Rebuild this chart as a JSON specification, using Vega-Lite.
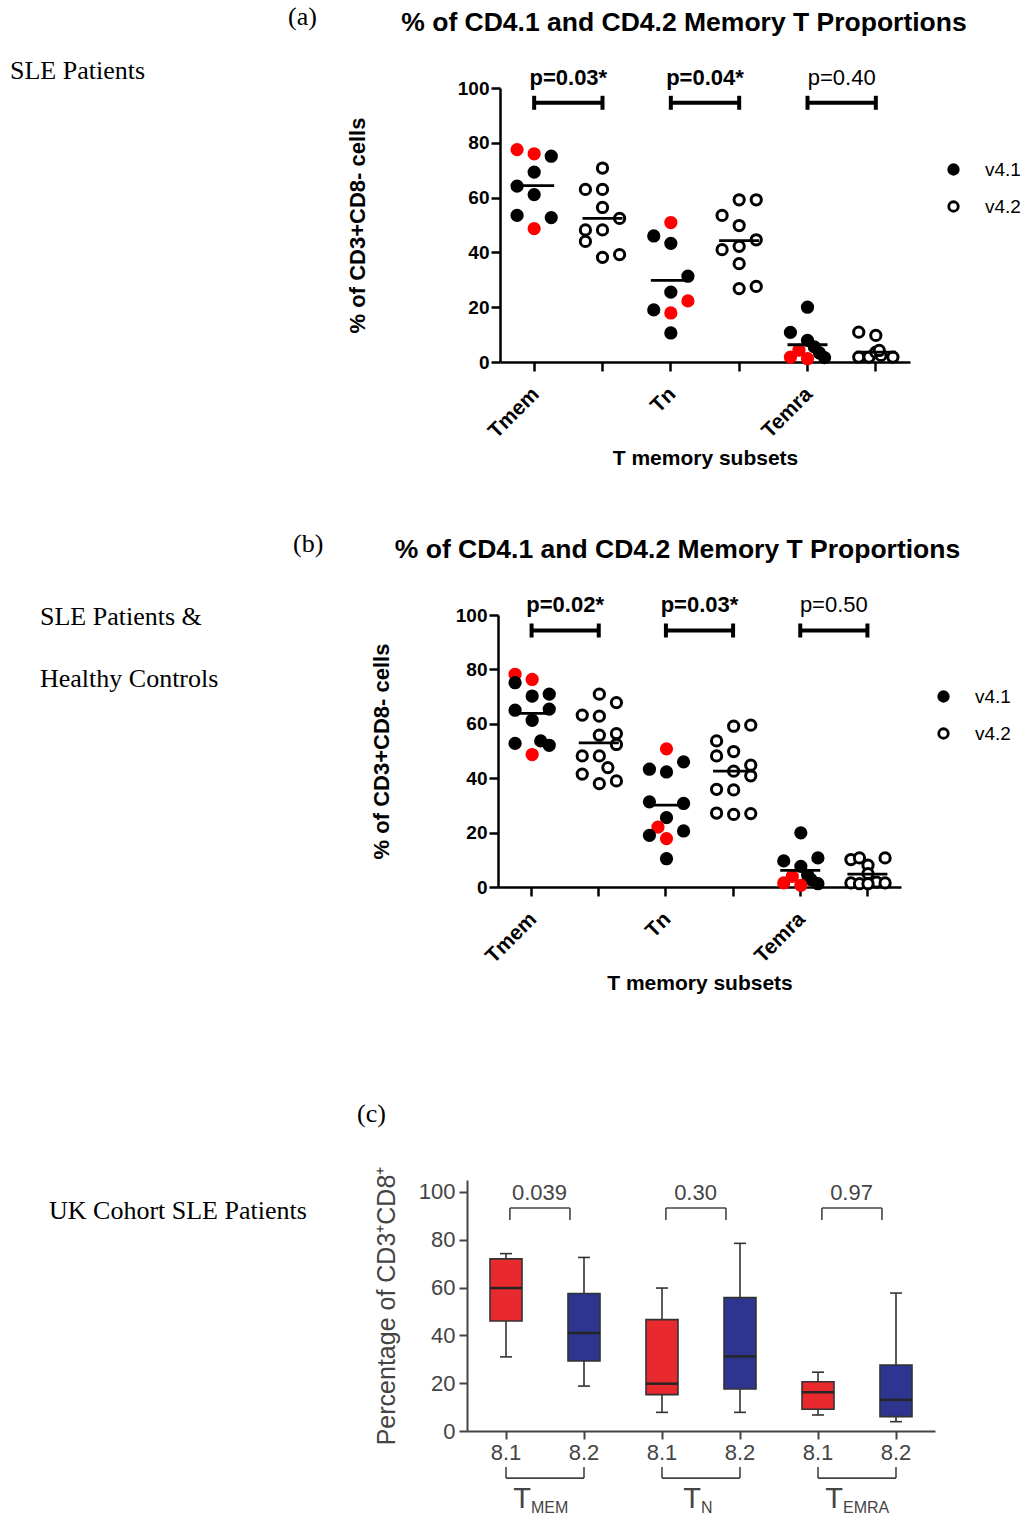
{
  "$schema": "https://vega.github.io/schema/vega-lite/v6.json",
  "autosize": {"type": "pad"},
  "padding": {"left": 0, "top": 4, "right": 0, "bottom": 0},
  "background": "white",
  "spacing": 0,
  "resolve": {"scale": {"fill": "independent", "stroke": "independent"}, "legend": {"fill": "independent", "stroke": "independent"}},
  "config": {
    "view": {"stroke": null},
    "font": "Liberation Sans",
    "axis": {"grid": false, "labelFont": "Liberation Sans", "titleFont": "Liberation Sans"},
    "legend": {"labelFont": "Liberation Sans"},
    "title": {"font": "Liberation Sans"}
  },
  "datasets": {
    "dotsA": [
      {"cat": "Tmem v4.1", "kind": "red", "off": -1, "value": 77.5},
      {"cat": "Tmem v4.1", "kind": "red", "off": 0, "value": 76.0},
      {"cat": "Tmem v4.1", "kind": "v4.1", "off": 1, "value": 75.1},
      {"cat": "Tmem v4.1", "kind": "v4.1", "off": 0, "value": 69.3},
      {"cat": "Tmem v4.1", "kind": "v4.1", "off": -1, "value": 64.2},
      {"cat": "Tmem v4.1", "kind": "v4.1", "off": 0, "value": 61.1},
      {"cat": "Tmem v4.1", "kind": "v4.1", "off": -1, "value": 53.5},
      {"cat": "Tmem v4.1", "kind": "v4.1", "off": 1, "value": 52.7},
      {"cat": "Tmem v4.1", "kind": "red", "off": 0, "value": 48.7},
      {"cat": "Tmem v4.2", "kind": "v4.2", "off": 0, "value": 70.8},
      {"cat": "Tmem v4.2", "kind": "v4.2", "off": -1, "value": 63.0},
      {"cat": "Tmem v4.2", "kind": "v4.2", "off": 0, "value": 63.0},
      {"cat": "Tmem v4.2", "kind": "v4.2", "off": 0, "value": 56.4},
      {"cat": "Tmem v4.2", "kind": "v4.2", "off": 1, "value": 52.4},
      {"cat": "Tmem v4.2", "kind": "v4.2", "off": -1, "value": 48.2},
      {"cat": "Tmem v4.2", "kind": "v4.2", "off": 0, "value": 48.2},
      {"cat": "Tmem v4.2", "kind": "v4.2", "off": -1, "value": 44.0},
      {"cat": "Tmem v4.2", "kind": "v4.2", "off": 0, "value": 38.2},
      {"cat": "Tmem v4.2", "kind": "v4.2", "off": 1, "value": 39.2},
      {"cat": "Tn v4.1", "kind": "red", "off": 0, "value": 50.9},
      {"cat": "Tn v4.1", "kind": "v4.1", "off": -1, "value": 46.0},
      {"cat": "Tn v4.1", "kind": "v4.1", "off": 0, "value": 43.3},
      {"cat": "Tn v4.1", "kind": "v4.1", "off": 1, "value": 31.3},
      {"cat": "Tn v4.1", "kind": "v4.1", "off": 0, "value": 25.5},
      {"cat": "Tn v4.1", "kind": "red", "off": 1, "value": 22.3},
      {"cat": "Tn v4.1", "kind": "v4.1", "off": -1, "value": 19.0},
      {"cat": "Tn v4.1", "kind": "red", "off": 0, "value": 17.9},
      {"cat": "Tn v4.1", "kind": "v4.1", "off": 0, "value": 10.6},
      {"cat": "Tn v4.2", "kind": "v4.2", "off": 0, "value": 59.2},
      {"cat": "Tn v4.2", "kind": "v4.2", "off": 1, "value": 59.2},
      {"cat": "Tn v4.2", "kind": "v4.2", "off": -1, "value": 53.5},
      {"cat": "Tn v4.2", "kind": "v4.2", "off": 0, "value": 49.8},
      {"cat": "Tn v4.2", "kind": "v4.2", "off": 1, "value": 44.6},
      {"cat": "Tn v4.2", "kind": "v4.2", "off": -1, "value": 41.0},
      {"cat": "Tn v4.2", "kind": "v4.2", "off": 0, "value": 42.2},
      {"cat": "Tn v4.2", "kind": "v4.2", "off": 0, "value": 35.9},
      {"cat": "Tn v4.2", "kind": "v4.2", "off": 0, "value": 26.8},
      {"cat": "Tn v4.2", "kind": "v4.2", "off": 1, "value": 27.6},
      {"cat": "Temra v4.1", "kind": "v4.1", "off": 0, "value": 20.0},
      {"cat": "Temra v4.1", "kind": "v4.1", "off": -1, "value": 10.8},
      {"cat": "Temra v4.1", "kind": "v4.1", "off": 0, "value": 7.9},
      {"cat": "Temra v4.1", "kind": "v4.1", "off": 0.4, "value": 5.5},
      {"cat": "Temra v4.1", "kind": "v4.1", "off": 0.7, "value": 3.3},
      {"cat": "Temra v4.1", "kind": "v4.1", "off": 1, "value": 1.6},
      {"cat": "Temra v4.1", "kind": "red", "off": -0.5, "value": 4.3},
      {"cat": "Temra v4.1", "kind": "red", "off": -1, "value": 1.8},
      {"cat": "Temra v4.1", "kind": "red", "off": 0, "value": 1.2},
      {"cat": "Temra v4.2", "kind": "v4.2", "off": -1, "value": 10.9},
      {"cat": "Temra v4.2", "kind": "v4.2", "off": 0, "value": 9.7},
      {"cat": "Temra v4.2", "kind": "v4.2", "off": -1, "value": 1.8},
      {"cat": "Temra v4.2", "kind": "v4.2", "off": -0.4, "value": 1.8},
      {"cat": "Temra v4.2", "kind": "v4.2", "off": 0, "value": 3.6},
      {"cat": "Temra v4.2", "kind": "v4.2", "off": 0.3, "value": 2.4},
      {"cat": "Temra v4.2", "kind": "v4.2", "off": 1, "value": 1.8},
      {"cat": "Temra v4.2", "kind": "v4.2", "off": 0.2, "value": 4.2}
    ],
    "meansA": [
      {"cat": "Tmem v4.1", "mean": 64.4},
      {"cat": "Tmem v4.2", "mean": 52.4},
      {"cat": "Tn v4.1", "mean": 29.8},
      {"cat": "Tn v4.2", "mean": 44.3},
      {"cat": "Temra v4.1", "mean": 6.3},
      {"cat": "Temra v4.2", "mean": 3.6}
    ],
    "bracketsA": [
      {"cat1": "Tmem v4.1", "cat2": "Tmem v4.2", "label": "p=0.03*", "sig": true},
      {"cat1": "Tn v4.1", "cat2": "Tn v4.2", "label": "p=0.04*", "sig": true},
      {"cat1": "Temra v4.1", "cat2": "Temra v4.2", "label": "p=0.40", "sig": false}
    ],
    "dotsB": [
      {"cat": "Tmem v4.1", "kind": "red", "off": -1, "value": 78.2},
      {"cat": "Tmem v4.1", "kind": "v4.1", "off": -1, "value": 75.1},
      {"cat": "Tmem v4.1", "kind": "red", "off": 0, "value": 76.3},
      {"cat": "Tmem v4.1", "kind": "v4.1", "off": 1, "value": 70.9},
      {"cat": "Tmem v4.1", "kind": "v4.1", "off": 0, "value": 70.2},
      {"cat": "Tmem v4.1", "kind": "v4.1", "off": -1, "value": 65.0},
      {"cat": "Tmem v4.1", "kind": "v4.1", "off": 1, "value": 65.4},
      {"cat": "Tmem v4.1", "kind": "v4.1", "off": 0, "value": 61.3},
      {"cat": "Tmem v4.1", "kind": "v4.1", "off": -1, "value": 52.8},
      {"cat": "Tmem v4.1", "kind": "v4.1", "off": 0.5, "value": 53.7},
      {"cat": "Tmem v4.1", "kind": "v4.1", "off": 1, "value": 52.1},
      {"cat": "Tmem v4.1", "kind": "red", "off": 0, "value": 48.7},
      {"cat": "Tmem v4.2", "kind": "v4.2", "off": 0, "value": 70.9},
      {"cat": "Tmem v4.2", "kind": "v4.2", "off": 1, "value": 67.8},
      {"cat": "Tmem v4.2", "kind": "v4.2", "off": -1, "value": 63.2},
      {"cat": "Tmem v4.2", "kind": "v4.2", "off": 0, "value": 62.8},
      {"cat": "Tmem v4.2", "kind": "v4.2", "off": 0, "value": 55.8},
      {"cat": "Tmem v4.2", "kind": "v4.2", "off": 1, "value": 56.4},
      {"cat": "Tmem v4.2", "kind": "v4.2", "off": 1, "value": 52.4},
      {"cat": "Tmem v4.2", "kind": "v4.2", "off": -1, "value": 48.2},
      {"cat": "Tmem v4.2", "kind": "v4.2", "off": 0, "value": 48.2},
      {"cat": "Tmem v4.2", "kind": "v4.2", "off": 0.5, "value": 43.9},
      {"cat": "Tmem v4.2", "kind": "v4.2", "off": -1, "value": 41.5},
      {"cat": "Tmem v4.2", "kind": "v4.2", "off": 1, "value": 39.0},
      {"cat": "Tmem v4.2", "kind": "v4.2", "off": 0, "value": 38.0},
      {"cat": "Tn v4.1", "kind": "red", "off": 0, "value": 50.8},
      {"cat": "Tn v4.1", "kind": "v4.1", "off": 1, "value": 46.0},
      {"cat": "Tn v4.1", "kind": "v4.1", "off": -1, "value": 43.3},
      {"cat": "Tn v4.1", "kind": "v4.1", "off": 0, "value": 42.3},
      {"cat": "Tn v4.1", "kind": "v4.1", "off": -1, "value": 31.3},
      {"cat": "Tn v4.1", "kind": "v4.1", "off": 1, "value": 30.7},
      {"cat": "Tn v4.1", "kind": "v4.1", "off": 0, "value": 25.5},
      {"cat": "Tn v4.1", "kind": "red", "off": -0.5, "value": 22.0},
      {"cat": "Tn v4.1", "kind": "v4.1", "off": 1, "value": 20.6},
      {"cat": "Tn v4.1", "kind": "v4.1", "off": -1, "value": 19.0},
      {"cat": "Tn v4.1", "kind": "red", "off": 0, "value": 17.8},
      {"cat": "Tn v4.1", "kind": "v4.1", "off": 0, "value": 10.4},
      {"cat": "Tn v4.2", "kind": "v4.2", "off": 0, "value": 59.1},
      {"cat": "Tn v4.2", "kind": "v4.2", "off": 1, "value": 59.5},
      {"cat": "Tn v4.2", "kind": "v4.2", "off": -1, "value": 53.7},
      {"cat": "Tn v4.2", "kind": "v4.2", "off": 0, "value": 49.8},
      {"cat": "Tn v4.2", "kind": "v4.2", "off": -1, "value": 48.2},
      {"cat": "Tn v4.2", "kind": "v4.2", "off": 1, "value": 44.8},
      {"cat": "Tn v4.2", "kind": "v4.2", "off": 0, "value": 42.6},
      {"cat": "Tn v4.2", "kind": "v4.2", "off": 1, "value": 40.9},
      {"cat": "Tn v4.2", "kind": "v4.2", "off": -1, "value": 35.9},
      {"cat": "Tn v4.2", "kind": "v4.2", "off": 0, "value": 35.7},
      {"cat": "Tn v4.2", "kind": "v4.2", "off": -1, "value": 27.2},
      {"cat": "Tn v4.2", "kind": "v4.2", "off": 0, "value": 26.7},
      {"cat": "Tn v4.2", "kind": "v4.2", "off": 1, "value": 27.0},
      {"cat": "Temra v4.1", "kind": "v4.1", "off": 0, "value": 19.9},
      {"cat": "Temra v4.1", "kind": "v4.1", "off": -1, "value": 9.6},
      {"cat": "Temra v4.1", "kind": "v4.1", "off": 1, "value": 10.7},
      {"cat": "Temra v4.1", "kind": "v4.1", "off": 0, "value": 7.6},
      {"cat": "Temra v4.1", "kind": "v4.1", "off": 0.4, "value": 4.3},
      {"cat": "Temra v4.1", "kind": "v4.1", "off": 0.6, "value": 2.7},
      {"cat": "Temra v4.1", "kind": "v4.1", "off": 1, "value": 1.2},
      {"cat": "Temra v4.1", "kind": "red", "off": -0.5, "value": 3.9},
      {"cat": "Temra v4.1", "kind": "red", "off": -1, "value": 1.5},
      {"cat": "Temra v4.1", "kind": "red", "off": 0, "value": 0.6},
      {"cat": "Temra v4.2", "kind": "v4.2", "off": -1, "value": 10.1},
      {"cat": "Temra v4.2", "kind": "v4.2", "off": -0.5, "value": 10.7},
      {"cat": "Temra v4.2", "kind": "v4.2", "off": 1, "value": 10.7},
      {"cat": "Temra v4.2", "kind": "v4.2", "off": 0, "value": 8.0},
      {"cat": "Temra v4.2", "kind": "v4.2", "off": 0, "value": 4.9},
      {"cat": "Temra v4.2", "kind": "v4.2", "off": -1, "value": 1.5},
      {"cat": "Temra v4.2", "kind": "v4.2", "off": -0.5, "value": 1.2},
      {"cat": "Temra v4.2", "kind": "v4.2", "off": 0.5, "value": 1.8},
      {"cat": "Temra v4.2", "kind": "v4.2", "off": 1, "value": 1.5},
      {"cat": "Temra v4.2", "kind": "v4.2", "off": 0, "value": 1.2}
    ],
    "meansB": [
      {"cat": "Tmem v4.1", "mean": 63.8},
      {"cat": "Tmem v4.2", "mean": 53.0},
      {"cat": "Tn v4.1", "mean": 30.1},
      {"cat": "Tn v4.2", "mean": 42.6},
      {"cat": "Temra v4.1", "mean": 6.1},
      {"cat": "Temra v4.2", "mean": 4.7}
    ],
    "bracketsB": [
      {"cat1": "Tmem v4.1", "cat2": "Tmem v4.2", "label": "p=0.02*", "sig": true},
      {"cat1": "Tn v4.1", "cat2": "Tn v4.2", "label": "p=0.03*", "sig": true},
      {"cat1": "Temra v4.1", "cat2": "Temra v4.2", "label": "p=0.50", "sig": false}
    ],
    "boxesC": [
      {"cat": "TMEM 8.1", "ver": "8.1", "lo": 31.0, "q1": 46.0, "med": 59.8, "q3": 72.0, "hi": 74.2},
      {"cat": "TMEM 8.2", "ver": "8.2", "lo": 18.8, "q1": 29.3, "med": 41.0, "q3": 57.5, "hi": 72.6},
      {"cat": "TN 8.1", "ver": "8.1", "lo": 7.8, "q1": 15.2, "med": 19.8, "q3": 46.6, "hi": 59.8},
      {"cat": "TN 8.2", "ver": "8.2", "lo": 7.8, "q1": 17.6, "med": 31.2, "q3": 55.8, "hi": 78.5},
      {"cat": "TEMRA 8.1", "ver": "8.1", "lo": 6.7, "q1": 9.1, "med": 16.2, "q3": 20.6, "hi": 24.6},
      {"cat": "TEMRA 8.2", "ver": "8.2", "lo": 3.9, "q1": 6.0, "med": 13.0, "q3": 27.6, "hi": 57.7}
    ],
    "groupsC": [
      {"group": "TMEM", "c1": "TMEM 8.1", "c2": "TMEM 8.2", "p": "0.039", "sub": "MEM"},
      {"group": "TN", "c1": "TN 8.1", "c2": "TN 8.2", "p": "0.30", "sub": "N"},
      {"group": "TEMRA", "c1": "TEMRA 8.1", "c2": "TEMRA 8.2", "p": "0.97", "sub": "EMRA"}
    ]
  },
  "vconcat": [
    {
      "resolve": {"scale": {"fill": "shared", "stroke": "shared"}, "legend": {"fill": "shared", "stroke": "shared"}},
      "hconcat": [
        {"width": 10, "height": 443, "data": {"values": [{}]}, "mark": "text", "encoding": {"text": {"value": ""}}},
        {"width": 20, "height": 20, "data": {"values": [{}]}, "mark": "text", "encoding": {"text": {"value": ""}},
         "title": {"text": "SLE Patients", "anchor": "start", "frame": "group", "font": "Liberation Serif", "fontSize": 26, "fontWeight": "normal", "color": "black", "offset": 4}},
        {"width": 258, "height": 20, "data": {"values": [{}]}, "mark": "text", "encoding": {"text": {"value": ""}}},
        {"width": 212, "height": 20, "data": {"values": [{}]}, "mark": "text", "encoding": {"text": {"value": ""}},
         "title": {"text": "(a)", "anchor": "start", "frame": "group", "font": "Liberation Serif", "fontSize": 26, "fontWeight": "normal", "color": "black", "offset": 58}},
        {
          "width": 410, "height": 274,
          "title": {"text": "% of CD4.1 and CD4.2 Memory T Proportions", "font": "Liberation Sans", "fontSize": 26.5, "fontWeight": "bold", "color": "black", "anchor": "middle", "dx": -21, "offset": 30},
          "layer": [
            {
              "data": {"name": "dotsA"},
              "mark": {"type": "point", "shape": "circle", "size": 105, "strokeWidth": 3, "opacity": 1},
              "encoding": {
                "x": {"field": "cat", "type": "nominal", "sort": null,
                      "scale": {"type": "band", "domain": ["Tmem v4.1", "Tmem v4.2", "Tn v4.1", "Tn v4.2", "Temra v4.1", "Temra v4.2"], "paddingInner": 0, "paddingOuter": 0},
                      "axis": {"title": "T memory subsets", "titleFontSize": 21, "titleFontWeight": "bold", "titleColor": "black", "titlePadding": 6,
                               "labelExpr": "split(datum.value, ' ')[1] == 'v4.1' ? split(datum.value, ' ')[0] : ''",
                               "labelAngle": -45, "labelFontSize": 21, "labelFontWeight": "bold", "labelColor": "black", "labelPadding": 12, "labelOffset": -6,
                               "domainColor": "black", "domainWidth": 2.5, "tickColor": "black", "tickWidth": 2.5, "tickSize": 9}},
                "xOffset": {"field": "off", "type": "quantitative", "scale": {"domain": [-2, 2], "nice": false, "zero": false}},
                "y": {"field": "value", "type": "quantitative", "scale": {"domain": [0, 100], "nice": false},
                      "axis": {"title": "% of CD3+CD8- cells", "titleFontSize": 22, "titleFontWeight": "bold", "titleColor": "black", "titlePadding": 88,
                               "values": [0, 20, 40, 60, 80, 100], "labelFontSize": 19, "labelFontWeight": "bold", "labelColor": "black", "labelPadding": 2,
                               "domainColor": "black", "domainWidth": 2.5, "tickColor": "black", "tickWidth": 2.5, "tickSize": 9}},
                "fill": {"field": "kind", "type": "nominal", "scale": {"domain": ["v4.1", "v4.2", "red"], "range": ["black", "white", "#ff0000"]},
                         "legend": {"title": null, "orient": "none", "legendX": 944, "legendY": 72, "values": ["v4.1", "v4.2"], "labelFontSize": 19, "labelColor": "black", "symbolSize": 90, "symbolStrokeWidth": 2.8, "rowPadding": 16, "labelOffset": 22, "symbolType": "circle"}},
                "stroke": {"field": "kind", "type": "nominal", "scale": {"domain": ["v4.1", "v4.2", "red"], "range": ["black", "black", "#ff0000"]},
                         "legend": {"title": null, "orient": "none", "legendX": 944, "legendY": 72, "values": ["v4.1", "v4.2"], "labelFontSize": 19, "labelColor": "black", "symbolSize": 90, "symbolStrokeWidth": 2.8, "rowPadding": 16, "labelOffset": 22, "symbolType": "circle"}}
              }
            },
            {
              "data": {"name": "meansA"},
              "mark": {"type": "tick", "orient": "horizontal", "size": 40, "thickness": 2.8, "color": "black", "opacity": 1},
              "encoding": {"x": {"field": "cat", "type": "nominal"}, "y": {"field": "mean", "type": "quantitative"}}
            },
            {
              "data": {"name": "bracketsA"},
              "mark": {"type": "rule", "strokeWidth": 4, "color": "black"},
              "encoding": {"x": {"field": "cat1", "type": "nominal"}, "x2": {"field": "cat2"}, "y": {"datum": 94.6, "type": "quantitative"}}
            },
            {
              "data": {"name": "bracketsA"},
              "mark": {"type": "tick", "orient": "vertical", "size": 14, "thickness": 4, "color": "black", "opacity": 1},
              "encoding": {"x": {"field": "cat1", "type": "nominal"}, "y": {"datum": 94.6, "type": "quantitative"}}
            },
            {
              "data": {"name": "bracketsA"},
              "mark": {"type": "tick", "orient": "vertical", "size": 14, "thickness": 4, "color": "black", "opacity": 1},
              "encoding": {"x": {"field": "cat2", "type": "nominal"}, "y": {"datum": 94.6, "type": "quantitative"}}
            },
            {
              "data": {"name": "bracketsA"},
              "transform": [{"filter": "datum.sig"}],
              "mark": {"type": "text", "fontSize": 22, "fontWeight": "bold", "baseline": "alphabetic", "dy": -18, "color": "black"},
              "encoding": {"x": {"field": "cat1", "type": "nominal", "bandPosition": 1}, "y": {"datum": 94.6, "type": "quantitative"}, "text": {"field": "label"}}
            },
            {
              "data": {"name": "bracketsA"},
              "transform": [{"filter": "!datum.sig"}],
              "mark": {"type": "text", "fontSize": 22, "fontWeight": "normal", "baseline": "alphabetic", "dy": -18, "color": "black"},
              "encoding": {"x": {"field": "cat1", "type": "nominal", "bandPosition": 1}, "y": {"datum": 94.6, "type": "quantitative"}, "text": {"field": "label"}}
            }
          ]
        }
      ],
      "spacing": 0,
      "bounds": "flush"
    },
    {
      "resolve": {"scale": {"fill": "shared", "stroke": "shared"}, "legend": {"fill": "shared", "stroke": "shared"}},
      "hconcat": [
        {"width": 30, "height": 486, "data": {"values": [{}]}, "mark": "text", "encoding": {"text": {"value": ""}}},
        {"width": 20, "height": 4, "data": {"values": [{"label": "SLE Patients &\nHealthy Controls"}]},
         "mark": {"type": "text", "align": "left", "baseline": "middle", "font": "Liberation Serif", "fontSize": 26, "lineBreak": "\n", "lineHeight": 62, "color": "black"},
         "encoding": {"text": {"field": "label"}}},
        {"width": 243, "height": 20, "data": {"values": [{}]}, "mark": "text", "encoding": {"text": {"value": ""}}},
        {"width": 205, "height": 20, "data": {"values": [{}]}, "mark": "text", "encoding": {"text": {"value": ""}},
         "title": {"text": "(b)", "anchor": "start", "frame": "group", "font": "Liberation Serif", "fontSize": 26, "fontWeight": "normal", "color": "black", "offset": 58}},
        {
          "width": 403, "height": 272,
          "title": {"text": "% of CD4.1 and CD4.2 Memory T Proportions", "font": "Liberation Sans", "fontSize": 26.5, "fontWeight": "bold", "color": "black", "anchor": "middle", "dx": -22, "offset": 30},
          "layer": [
            {
              "data": {"name": "dotsB"},
              "mark": {"type": "point", "shape": "circle", "size": 105, "strokeWidth": 3, "opacity": 1},
              "encoding": {
                "x": {"field": "cat", "type": "nominal", "sort": null,
                      "scale": {"type": "band", "domain": ["Tmem v4.1", "Tmem v4.2", "Tn v4.1", "Tn v4.2", "Temra v4.1", "Temra v4.2"], "paddingInner": 0, "paddingOuter": 0},
                      "axis": {"title": "T memory subsets", "titleFontSize": 21, "titleFontWeight": "bold", "titleColor": "black", "titlePadding": 6,
                               "labelExpr": "split(datum.value, ' ')[1] == 'v4.1' ? split(datum.value, ' ')[0] : ''",
                               "labelAngle": -45, "labelFontSize": 21, "labelFontWeight": "bold", "labelColor": "black", "labelPadding": 12, "labelOffset": -6,
                               "domainColor": "black", "domainWidth": 2.5, "tickColor": "black", "tickWidth": 2.5, "tickSize": 9}},
                "xOffset": {"field": "off", "type": "quantitative", "scale": {"domain": [-2, 2], "nice": false, "zero": false}},
                "y": {"field": "value", "type": "quantitative", "scale": {"domain": [0, 100], "nice": false},
                      "axis": {"title": "% of CD3+CD8- cells", "titleFontSize": 22, "titleFontWeight": "bold", "titleColor": "black", "titlePadding": 62,
                               "values": [0, 20, 40, 60, 80, 100], "labelFontSize": 19, "labelFontWeight": "bold", "labelColor": "black", "labelPadding": 2,
                               "domainColor": "black", "domainWidth": 2.5, "tickColor": "black", "tickWidth": 2.5, "tickSize": 9}},
                "fill": {"field": "kind", "type": "nominal", "scale": {"domain": ["v4.1", "v4.2", "red"], "range": ["black", "white", "#ff0000"]},
                         "legend": {"title": null, "orient": "none", "legendX": 934, "legendY": 72, "values": ["v4.1", "v4.2"], "labelFontSize": 19, "labelColor": "black", "symbolSize": 90, "symbolStrokeWidth": 2.8, "rowPadding": 16, "labelOffset": 22, "symbolType": "circle"}},
                "stroke": {"field": "kind", "type": "nominal", "scale": {"domain": ["v4.1", "v4.2", "red"], "range": ["black", "black", "#ff0000"]},
                         "legend": {"title": null, "orient": "none", "legendX": 934, "legendY": 72, "values": ["v4.1", "v4.2"], "labelFontSize": 19, "labelColor": "black", "symbolSize": 90, "symbolStrokeWidth": 2.8, "rowPadding": 16, "labelOffset": 22, "symbolType": "circle"}}
              }
            },
            {
              "data": {"name": "meansB"},
              "mark": {"type": "tick", "orient": "horizontal", "size": 40, "thickness": 2.8, "color": "black", "opacity": 1},
              "encoding": {"x": {"field": "cat", "type": "nominal"}, "y": {"field": "mean", "type": "quantitative"}}
            },
            {
              "data": {"name": "bracketsB"},
              "mark": {"type": "rule", "strokeWidth": 4, "color": "black"},
              "encoding": {"x": {"field": "cat1", "type": "nominal"}, "x2": {"field": "cat2"}, "y": {"datum": 94.3, "type": "quantitative"}}
            },
            {
              "data": {"name": "bracketsB"},
              "mark": {"type": "tick", "orient": "vertical", "size": 14, "thickness": 4, "color": "black", "opacity": 1},
              "encoding": {"x": {"field": "cat1", "type": "nominal"}, "y": {"datum": 94.3, "type": "quantitative"}}
            },
            {
              "data": {"name": "bracketsB"},
              "mark": {"type": "tick", "orient": "vertical", "size": 14, "thickness": 4, "color": "black", "opacity": 1},
              "encoding": {"x": {"field": "cat2", "type": "nominal"}, "y": {"datum": 94.3, "type": "quantitative"}}
            },
            {
              "data": {"name": "bracketsB"},
              "transform": [{"filter": "datum.sig"}],
              "mark": {"type": "text", "fontSize": 22, "fontWeight": "bold", "baseline": "alphabetic", "dy": -19, "color": "black"},
              "encoding": {"x": {"field": "cat1", "type": "nominal", "bandPosition": 1}, "y": {"datum": 94.3, "type": "quantitative"}, "text": {"field": "label"}}
            },
            {
              "data": {"name": "bracketsB"},
              "transform": [{"filter": "!datum.sig"}],
              "mark": {"type": "text", "fontSize": 22, "fontWeight": "normal", "baseline": "alphabetic", "dy": -19, "color": "black"},
              "encoding": {"x": {"field": "cat1", "type": "nominal", "bandPosition": 1}, "y": {"datum": 94.3, "type": "quantitative"}, "text": {"field": "label"}}
            }
          ]
        }
      ],
      "spacing": 0,
      "bounds": "flush"
    },
    {
      "hconcat": [
        {"width": 39, "height": 20, "data": {"values": [{}]}, "mark": "text", "encoding": {"text": {"value": ""}}},
        {"width": 20, "height": 62, "data": {"values": [{"label": "UK Cohort SLE Patients"}]},
         "mark": {"type": "text", "align": "left", "baseline": "middle", "font": "Liberation Serif", "fontSize": 26, "color": "black"},
         "encoding": {"text": {"field": "label"}}},
        {"width": 298, "height": 20, "data": {"values": [{}]}, "mark": "text", "encoding": {"text": {"value": ""}}},
        {"width": 110, "height": 20, "data": {"values": [{}]}, "mark": "text", "encoding": {"text": {"value": ""}},
         "title": {"text": "(c)", "anchor": "start", "frame": "group", "font": "Liberation Serif", "fontSize": 26, "fontWeight": "normal", "color": "black", "offset": 53}},
        {
          "width": 468, "height": 251,
          "layer": [
            {
              "data": {"name": "boxesC"},
              "mark": {"type": "rule", "color": "#333333", "strokeWidth": 1.6},
              "encoding": {
                "x": {"field": "cat", "type": "nominal", "sort": null,
                      "scale": {"type": "band", "domain": ["TMEM 8.1", "TMEM 8.2", "TN 8.1", "TN 8.2", "TEMRA 8.1", "TEMRA 8.2"], "paddingInner": 0, "paddingOuter": 0},
                      "axis": {"title": null, "labelExpr": "split(datum.value, ' ')[1]", "labelAngle": 0, "labelFontSize": 22, "labelColor": "#444444", "labelPadding": 3,
                               "domainColor": "#444444", "domainWidth": 2, "tickColor": "#444444", "tickWidth": 2, "tickSize": 8}},
                "y": {"field": "lo", "type": "quantitative", "scale": {"domain": [0, 105], "nice": false, "zero": false},
                      "axis": {"title": "Percentage of CD3⁺CD8⁺", "titleFontSize": 25, "titleFontWeight": "normal", "titleColor": "#444444", "titlePadding": 19,
                               "values": [0, 20, 40, 60, 80, 100], "labelFontSize": 22, "labelColor": "#444444", "labelPadding": 4,
                               "domainColor": "#444444", "domainWidth": 2, "tickColor": "#444444", "tickWidth": 2, "tickSize": 8}},
                "y2": {"field": "hi"}
              }
            },
            {
              "data": {"name": "boxesC"},
              "mark": {"type": "tick", "orient": "horizontal", "size": 12, "thickness": 1.6, "color": "#333333", "opacity": 1},
              "encoding": {"x": {"field": "cat", "type": "nominal"}, "y": {"field": "lo", "type": "quantitative"}}
            },
            {
              "data": {"name": "boxesC"},
              "mark": {"type": "tick", "orient": "horizontal", "size": 12, "thickness": 1.6, "color": "#333333", "opacity": 1},
              "encoding": {"x": {"field": "cat", "type": "nominal"}, "y": {"field": "hi", "type": "quantitative"}}
            },
            {
              "data": {"name": "boxesC"},
              "mark": {"type": "bar", "size": 32, "stroke": "#333333", "strokeWidth": 1.6},
              "encoding": {
                "x": {"field": "cat", "type": "nominal"},
                "y": {"field": "q1", "type": "quantitative"},
                "y2": {"field": "q3"},
                "color": {"field": "ver", "type": "nominal", "scale": {"domain": ["8.1", "8.2"], "range": ["#e8292d", "#2d3591"]}, "legend": null}
              }
            },
            {
              "data": {"name": "boxesC"},
              "mark": {"type": "tick", "orient": "horizontal", "size": 32, "thickness": 2.5, "color": "#262626", "opacity": 1},
              "encoding": {"x": {"field": "cat", "type": "nominal"}, "y": {"field": "med", "type": "quantitative"}}
            },
            {
              "data": {"name": "groupsC"},
              "mark": {"type": "rule", "color": "#444444", "strokeWidth": 1.6},
              "encoding": {"x": {"field": "c1", "type": "nominal", "bandPosition": 0.55}, "x2": {"field": "c2", "bandPosition": 0.32}, "y": {"datum": 93.3, "type": "quantitative"}}
            },
            {
              "data": {"name": "groupsC"},
              "mark": {"type": "tick", "orient": "vertical", "size": 12, "thickness": 1.6, "color": "#444444", "opacity": 1},
              "encoding": {"x": {"field": "c1", "type": "nominal", "bandPosition": 0.55}, "y": {"datum": 90.8, "type": "quantitative"}}
            },
            {
              "data": {"name": "groupsC"},
              "mark": {"type": "tick", "orient": "vertical", "size": 12, "thickness": 1.6, "color": "#444444", "opacity": 1},
              "encoding": {"x": {"field": "c2", "type": "nominal", "bandPosition": 0.32}, "y": {"datum": 90.8, "type": "quantitative"}}
            },
            {
              "data": {"name": "groupsC"},
              "mark": {"type": "text", "fontSize": 22, "baseline": "alphabetic", "dy": -8, "color": "#444444"},
              "encoding": {"x": {"field": "c1", "type": "nominal", "bandPosition": 0.93}, "y": {"datum": 93.3, "type": "quantitative"}, "text": {"field": "p"}}
            },
            {
              "data": {"name": "groupsC"},
              "mark": {"type": "rule", "color": "#444444", "strokeWidth": 1.6},
              "encoding": {"x": {"field": "c1", "type": "nominal"}, "x2": {"field": "c2"}, "y": {"datum": -19.7, "type": "quantitative"}}
            },
            {
              "data": {"name": "groupsC"},
              "mark": {"type": "tick", "orient": "vertical", "size": 11, "thickness": 1.6, "color": "#444444", "opacity": 1},
              "encoding": {"x": {"field": "c1", "type": "nominal"}, "y": {"datum": -17.4, "type": "quantitative"}}
            },
            {
              "data": {"name": "groupsC"},
              "mark": {"type": "tick", "orient": "vertical", "size": 11, "thickness": 1.6, "color": "#444444", "opacity": 1},
              "encoding": {"x": {"field": "c2", "type": "nominal"}, "y": {"datum": -17.4, "type": "quantitative"}}
            },
            {
              "data": {"name": "groupsC"},
              "transform": [{"filter": "datum.group == 'TN'"}],
              "mark": {"type": "text", "fontSize": 29, "align": "right", "baseline": "alphabetic", "color": "#444444"},
              "encoding": {"x": {"field": "c1", "type": "nominal", "bandPosition": 1}, "y": {"datum": -32.2, "type": "quantitative"}, "text": {"value": "T"}}
            },
            {
              "data": {"name": "groupsC"},
              "transform": [{"filter": "datum.group != 'TN'"}],
              "mark": {"type": "text", "fontSize": 29, "align": "right", "baseline": "alphabetic", "dx": -14, "color": "#444444"},
              "encoding": {"x": {"field": "c1", "type": "nominal", "bandPosition": 1}, "y": {"datum": -32.2, "type": "quantitative"}, "text": {"value": "T"}}
            },
            {
              "data": {"name": "groupsC"},
              "transform": [{"filter": "datum.group == 'TN'"}],
              "mark": {"type": "text", "fontSize": 16, "align": "left", "baseline": "alphabetic", "color": "#444444"},
              "encoding": {"x": {"field": "c1", "type": "nominal", "bandPosition": 1}, "y": {"datum": -34.2, "type": "quantitative"}, "text": {"field": "sub"}}
            },
            {
              "data": {"name": "groupsC"},
              "transform": [{"filter": "datum.group != 'TN'"}],
              "mark": {"type": "text", "fontSize": 16, "align": "left", "baseline": "alphabetic", "dx": -14, "color": "#444444"},
              "encoding": {"x": {"field": "c1", "type": "nominal", "bandPosition": 1}, "y": {"datum": -34.2, "type": "quantitative"}, "text": {"field": "sub"}}
            }
          ]
        }
      ],
      "spacing": 0,
      "bounds": "flush"
    }
  ]
}
